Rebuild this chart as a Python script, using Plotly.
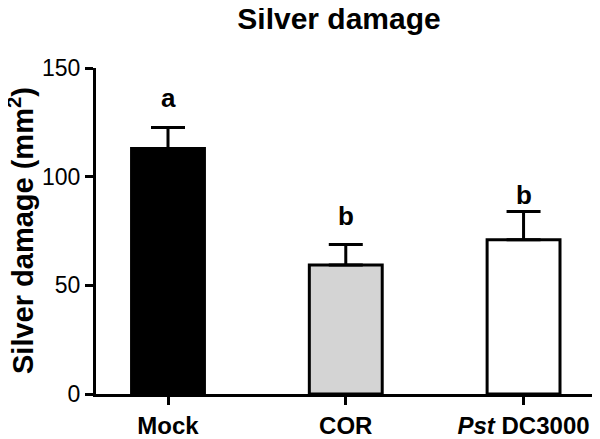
import plotly.graph_objects as go

# Data
groups = ["Mock", "COR", "<i>Pst</i> DC3000"]
damage = [113, 59.3, 71]
damage_err = [9.6, 9.5, 13]
letters = ["a", "b", "b"]
letter_pos = [136, 82, 91.5]
fills = ["#000000", "#d4d4d4", "#ffffff"]

font_family = "Liberation Sans, Arial, sans-serif"

# the page body keeps an 8px margin, so the figure is drawn 8px smaller
W, H, OFF = 592, 431, 8
L, T, B = 96 - OFF, 68 - OFF, 38

fig = go.Figure()
fig.add_trace(go.Bar(
    x=groups,
    y=damage,
    width=0.41,
    marker=dict(color=fills, line=dict(color="black", width=3)),
    error_y=dict(type="data", symmetric=False, array=damage_err,
                 arrayminus=[0, 0, 0], color="black", thickness=3, width=17),
    showlegend=False,
))

for g, lab, pos in zip(groups, letters, letter_pos):
    fig.add_annotation(x=g, y=pos, text=f"<b>{lab}</b>", showarrow=False,
                       yanchor="middle", font=dict(size=26, color="black", family=font_family))

# y axis title, placed by hand so it sits near the left edge like the original
fig.add_annotation(xref="paper", yref="paper", x=(21 - OFF - L) / (W - L), y=0.5,
                   xanchor="center", yanchor="middle", textangle=-90, showarrow=False,
                   text="<b>Silver damage (mm<sup>2</sup>)</b>",
                   font=dict(size=29, color="black", family=font_family))

fig.update_layout(
    width=W, height=H,
    margin=dict(l=L, r=0, t=T, b=B),
    plot_bgcolor="white", paper_bgcolor="white",
    font=dict(family=font_family, color="black"),
    title=dict(text="<b>Silver damage</b>", x=(339 - OFF) / W, xanchor="center",
               y=1 - (18 - OFF) / H, yanchor="middle",
               font=dict(size=30, color="black", family=font_family)),
)
fig.update_xaxes(
    range=[-0.405, 2.43],
    showline=True, linecolor="black", linewidth=3,
    ticks="outside", ticklen=8, tickwidth=3, tickcolor="black",
    tickfont=dict(size=24, color="black", family=font_family),
    tickprefix="<b>", ticksuffix="</b>",
    showgrid=False, zeroline=False,
)
fig.update_yaxes(
    range=[0, 150], tickvals=[0, 50, 100, 150],
    showline=True, linecolor="black", linewidth=3,
    ticks="outside", ticklen=8, tickwidth=3, tickcolor="black",
    tickfont=dict(size=23, color="black", family=font_family),
    tickprefix="<b>", ticksuffix="</b>",
    showgrid=False, zeroline=False,
)

fig.write_html("out.html")
